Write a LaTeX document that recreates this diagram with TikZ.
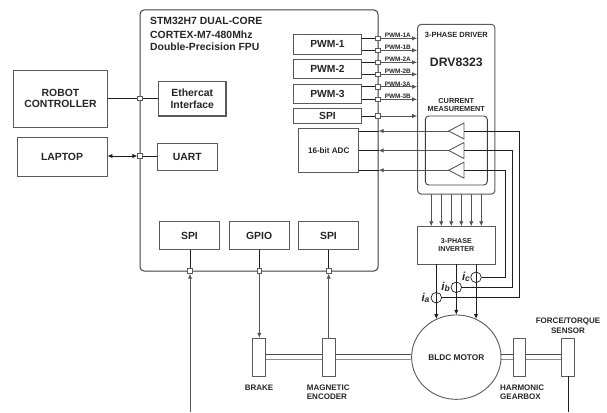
\documentclass[tikz,border=0pt]{standalone}
\usepackage{fontspec}
\setmainfont{Liberation Sans}
\usetikzlibrary{arrows.meta,shapes.geometric,calc,backgrounds}
\definecolor{ink}{HTML}{262626}
\definecolor{edge}{HTML}{5A5A5A}
\definecolor{wire}{HTML}{1E1E1E}
\definecolor{wireg}{HTML}{555555}
\newcommand\fs[2]{\fontsize{#1}{#2}\selectfont\bfseries}
\newcommand\pxbox[6][]{\node[boxed,#1,minimum width={(#4-#2)*1pt},minimum height={(#5-#3)*1pt}] (#6) at ({(#2+#4)/2},{(#3+#5)/2})}
\tikzset{
  boxed/.style={draw=edge,line width=0.9pt,fill=white,inner sep=0pt,text=ink,align=center},
  lbl/.style={inner sep=0pt,text=ink,align=center},
  lblL/.style={inner sep=0pt,text=ink,align=left},
  port/.style={draw=edge,line width=0.7pt,fill=white,inner sep=0pt,minimum size=4.6pt},
  sense/.style={draw=wire,line width=0.7pt,fill=white,circle,inner sep=0pt,minimum size=10.6pt},
  wr/.style={draw=wire,line width=0.8pt},
  wg/.style={draw=wireg,line width=0.9pt},
  arr/.style={-{Latex[length=5pt,width=4.4pt]}},
  arrb/.style={{Latex[length=5pt,width=4.4pt]}-{Latex[length=5pt,width=4.4pt]}},
  shafttop/.style={draw=edge!85!black,line width=1pt},
  shaftbot/.style={draw=black!45,line width=1.5pt},
  amp/.style={draw=edge,line width=0.9pt,fill=white,line join=miter},
}
\begin{document}
\begin{tikzpicture}[x=1pt,y=-1pt]
\useasboundingbox (0,0) rectangle (607,412);
% main blocks
\node[draw=edge!70!black,line width=1pt,rounded corners=4pt,fill=white,inner sep=0pt,minimum width=238pt,minimum height=261pt] (mcu) at (259,140.5) {};
\node[draw=edge,line width=1pt,rounded corners=3.5pt,fill=white,inner sep=0pt,minimum width=77.3pt,minimum height=169.7pt] (drv) at (456.3,109.2) {};
\node[draw=edge!70!black,line width=0.9pt,rounded corners=3.5pt,fill=white,inner sep=0pt,minimum width=62pt,minimum height=69pt] (cm) at (456.3,150.5) {};
\node[lblL,anchor=west,font=\fs{10.4}{11.7}] (title) at (150,34) {STM32H7 DUAL-CORE\\[2pt]CORTEX-M7-480Mhz\\Double-Precision FPU};
\pxbox[font=\fs{10.4}{11.8}]{13.5}{70}{107.5}{127}{rc}{ROBOT\\CONTROLLER};
\pxbox[font=\fs{10.4}{12}]{17}{137}{107}{176}{lap}{LAPTOP};
\pxbox[line width=1.2pt,font=\fs{10.4}{11.8}]{158.5}{81.5}{226}{116}{eth}{Ethercat\\Interface};
\pxbox[font=\fs{10.4}{12}]{157.5}{143}{217}{170}{uart}{UART};
\pxbox[font=\fs{10.4}{12}]{159.3}{221.7}{219.7}{249.3}{spia}{SPI};
\pxbox[font=\fs{10.4}{12}]{229.3}{221.7}{289}{249.3}{gpio}{GPIO};
\pxbox[font=\fs{10.4}{12}]{298.3}{221.7}{358.7}{249.3}{spib}{SPI};
\pxbox[font=\fs{10.3}{12}]{293.3}{34.3}{361.7}{54}{pa}{PWM-1};
\pxbox[font=\fs{10.3}{12}]{293.3}{59}{361.7}{78.7}{pb}{PWM-2};
\pxbox[font=\fs{10.3}{12}]{293.3}{84}{361.7}{103.3}{pc}{PWM-3};
\pxbox[font=\fs{10.3}{12}]{293.3}{108.3}{361.7}{123.3}{spic}{SPI};
\pxbox[font=\fs{8.1}{10}]{298.7}{128.3}{358.7}{172.7}{adc}{16-bit ADC};
\pxbox[font=\fs{7.1}{8}]{417.7}{226.7}{495}{264}{inv}{3-PHASE\\INVERTER};
\pxbox{252.3}{338.3}{265.7}{376}{brake}{};
\pxbox{322.3}{338.3}{335.3}{376}{enc}{};
\pxbox{513.3}{338.3}{525.7}{376}{gear}{};
\pxbox{561.7}{338.3}{574.3}{376}{ft}{};
\node[boxed,ellipse,minimum width=89.4pt,minimum height=84.4pt,font=\fs{8.3}{10}] (motor) at (456.3,357.15) {BLDC MOTOR};
% shaft
\begin{scope}[on background layer]
\foreach \u/\v in {brake/enc,enc/motor,motor/gear,gear/ft}{
  \draw[shafttop] ($(\u.east)+(0,-2.6)$) -- ($(\v.west)+(0,-2.6)$);
  \draw[shaftbot] ($(\u.east)+(0,2.4)$) -- ($(\v.west)+(0,2.4)$);
}
\end{scope}
% texts in the driver
\node[lbl,font=\fs{7.5}{9}] (drvt) at (456.3,35) {3-PHASE DRIVER};
\node[lbl,font=\fs{12.2}{14}] (drvn) at (456.3,62.3) {DRV8323};
\node[lbl,font=\fs{7.3}{8}] (cmt) at (456.3,105.3) {CURRENT\\MEASUREMENT};
% ports
\foreach \n/\x/\y in {p1/140/98.5,p2/140/156,q1/190/271,q2/259.3/271,q3/328.7/271,
  a1/378/38.3,a2/378/50.3,a3/378/62.3,a4/378/74.3,a5/378/86.7,a6/378/99.3,a7/378/116}
  \node[port] (\n) at (\x,\y) {};
% left connectors
\draw[wr] (rc.east |- p1) -- (p1) -- (eth.west |- p1);
\draw[wr,arrb] (lap.east |- p2) -- (p2.west);
\draw[wr] (p2.east) -- (uart.west |- p2);
\draw[wr] (spia.south -| q1) -- (q1.north);
\draw[wr] (gpio.south -| q2) -- (q2.north);
\draw[wr] (spib.south -| q3) -- (q3.north);
\coordinate (inA) at (190,412);
\coordinate (outF) at (568,412);
\draw[wg,arr] (inA) -- (q1.south);
\draw[wg,arr] (q2.south) -- (brake.north -| q2);
\draw[wg,arr] (enc.north -| q3) -- (q3.south);
\draw[wr] (ft.south -| outF) -- (outF);
% PWM connectors
\foreach \s/\n/\t/\ly in {pa/a1/PWM-1A/35,pa/a2/PWM-1B/47,pb/a3/PWM-2A/59.3,pb/a4/PWM-2B/71.5,pc/a5/PWM-3A/84,pc/a6/PWM-3B/96.3}{
  \draw[wr] (\s.east |- \n) -- (\n.west);
  \draw[wg,arr] (\n.east) -- (drv.west |- \n);
  \node[lbl,anchor=west,font=\fs{6.4}{7}] (l\n) at (384.7,\ly) {\t};
}
\draw[wr] (spic.east |- a7) -- (a7.west);
\draw[wg,arr] (a7.east) -- (drv.west |- a7);
% amplifiers and ADC lines
\foreach \i/\y in {1/131,2/150.5,3/170.2}{
  \coordinate (tip\i) at (448.7,\y);
  \coordinate (base\i) at (464,\y);
  \draw[amp] ($(base\i)+(0,-8)$) -- (tip\i) -- ($(base\i)+(0,8)$) -- cycle;
  \draw[wr] (379,\y) -- (adc.east |- tip\i);
  \draw[wg,arr] (tip\i) -- (378.6,\y);
}
% sense coils and motor feeds
\node[sense] (sa) at (436.3,297.7) {};
\node[sense] (sb) at (456.3,287.3) {};
\node[sense] (sc) at (476,277.3) {};
\coordinate (ca) at (519.3,297.7);
\coordinate (cb) at (512.3,287.3);
\coordinate (cc) at (505,277.3);
\draw[wr] (base1) -- (base1 -| ca) -- (ca) -- (sa);
\draw[wr] (base2) -- (base2 -| cb) -- (cb) -- (sb);
\draw[wr] (base3) -- (base3 -| cc) -- (cc) -- (sc);
\coordinate (ma) at (436.3,319);
\coordinate (mb) at (456.3,314.8);
\coordinate (mc) at (476,319);
\draw[wr,arr] (inv.south -| sa) -- (ma);
\draw[wr,arr] (inv.south -| sb) -- (mb);
\draw[wr,arr] (inv.south -| sc) -- (mc);
% driver to inverter
\foreach \x in {431.3,441.3,451.3,461.3,471.3,481.3}{
  \coordinate (dd) at (\x,194);
  \draw[wg,arr] (dd) -- (inv.north -| dd);
}
% current labels
\node[lbl,font=\fs{11.5}{12}\itshape] (ia) at (425.5,297.7) {i\raisebox{-0.8pt}{\fs{8.5}{9}\itshape a}};
\node[lbl,font=\fs{11.5}{12}\itshape] (ib) at (445.5,287) {i\raisebox{-0.8pt}{\fs{8.5}{9}\itshape b}};
\node[lbl,font=\fs{11.5}{12}\itshape] (ic) at (466,276.5) {i\raisebox{-0.8pt}{\fs{8.5}{9}\itshape c}};
% bottom labels
\node[lbl,font=\fs{8}{9}] (tb) at (259,387.7) {BRAKE};
\node[lblL,anchor=west,font=\fs{8}{9}] (te) at (306.7,392.2) {MAGNETIC\\ENCODER};
\node[lblL,anchor=west,font=\fs{8}{9}] (tg) at (500,392.2) {HARMONIC\\GEARBOX};
\node[lbl,font=\fs{8}{9.3}] (tf) at (568,325.7) {FORCE/TORQUE\\SENSOR};
\end{tikzpicture}
\end{document}
